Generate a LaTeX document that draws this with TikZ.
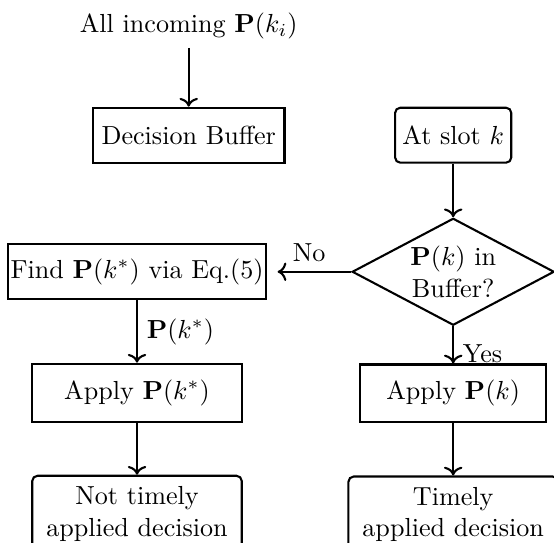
\documentclass[tikz,border=0pt]{standalone}
\usepackage{amsmath}
\usepackage{amssymb}
\usetikzlibrary{arrows.meta, positioning, shapes.geometric}

\begin{document}
\begin{tikzpicture}[
  box/.style={draw, thick, minimum height=0.74cm},
  roundbox/.style={draw, thick, rounded corners=2pt, minimum height=0.74cm, align=center},
  decide/.style={draw, thick, diamond, aspect=1.9, inner sep=0pt, align=center,
    minimum width=2.72cm, minimum height=1.44cm},
  flow/.style={->, thick}
]
\useasboundingbox (0,0) rectangle (7.457,-7.309);

\node[box] (buffer) at (2.54,-1.82) {Decision Buffer};
\node[above=0.79cm of buffer] (incoming) {All incoming $\mathbf{P}(k_i)$};
\node[roundbox, inner xsep=2.8pt] (slot) at (6.10,-1.82) {At slot $k$};
\node[decide, below=0.72cm of slot] (check) {$\mathbf{P}(k)$ in\\Buffer?};
\node[box, inner xsep=1pt, left=1.13cm of check] (find) {Find $\mathbf{P}(k^*)$ via Eq.(5)};
\node[box, minimum width=2.82cm, minimum height=0.78cm, below=0.84cm of find] (applystar) {Apply $\mathbf{P}(k^*)$};
\node[box, minimum width=2.5cm, minimum height=0.78cm, below=0.50cm of check] (apply) {Apply $\mathbf{P}(k)$};
\node[roundbox, minimum width=2.82cm, minimum height=1.03cm, below=0.70cm of applystar] (late) {Not timely\\applied decision};
\node[roundbox, minimum width=2.82cm, minimum height=1.03cm, below=0.70cm of apply] (timely) {Timely\\applied decision};

\draw[flow] (incoming) -- (buffer);
\draw[flow] (slot) -- (check);
\draw[flow, shorten >=4pt] (check.west) -- node[above] {No} (find.east);
\draw[flow] (check) -- node[right, near end] {Yes} (apply);
\draw[flow] (find) -- node[right] {$\mathbf{P}(k^*)$} (applystar);
\draw[flow] (applystar) -- (late);
\draw[flow] (apply) -- (timely);
\end{tikzpicture}
\end{document}
